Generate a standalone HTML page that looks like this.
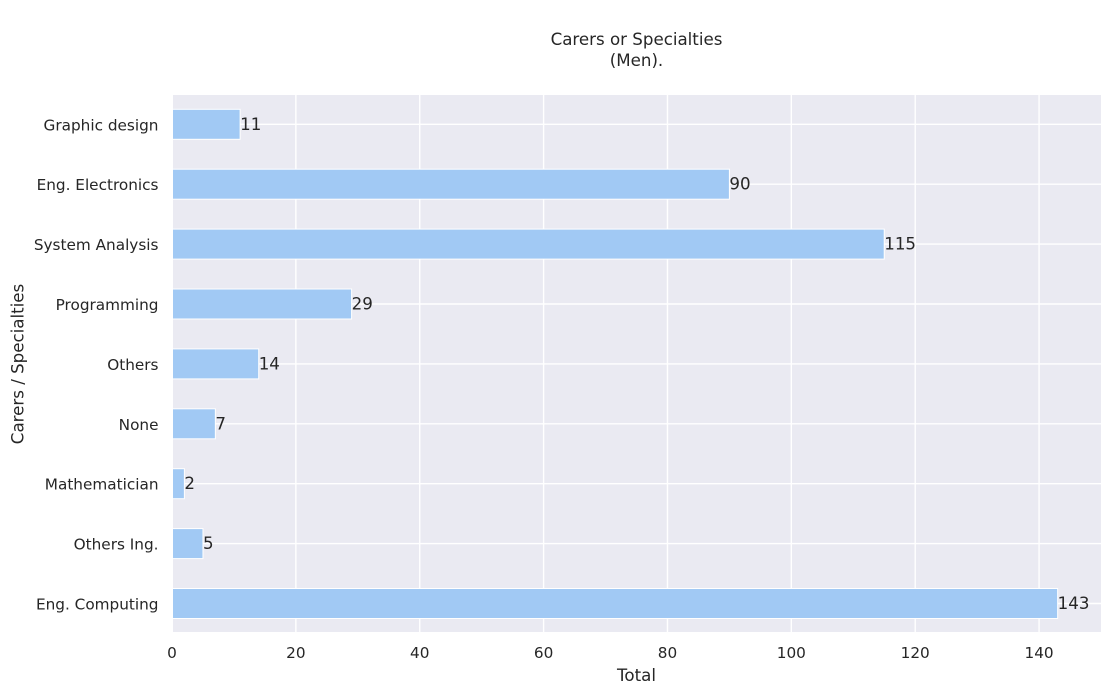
<!DOCTYPE html>
<html lang="en">
<head>
<meta charset="utf-8">
<title>Carers or Specialties (Men)</title>
<style>
html,body{margin:0;padding:0;background:#fff;width:1111px;height:695px;overflow:hidden}
svg{display:block}
text{font-family:"DejaVu Sans","Liberation Sans",sans-serif;fill:#262626}
</style>
</head>
<body>
<svg id="chart" width="1111" height="695" viewBox="0 0 1111 695" xmlns="http://www.w3.org/2000/svg">
<defs><clipPath id="plot-clip"><rect x="173" y="95" width="928" height="537"/></clipPath></defs>
<rect x="173" y="95" width="928" height="537" fill="#eaeaf2"/>
<g id="grid" clip-path="url(#plot-clip)"></g>
<g id="bars" clip-path="url(#plot-clip)"></g>
<g id="labels"></g>
<g id="yticks"></g>
<g id="xticks"></g>
<text x="636.5" y="45" text-anchor="middle" font-size="16.67">Carers or Specialties</text>
<text x="636.5" y="66" text-anchor="middle" font-size="16.67">(Men).</text>
<text x="636.5" y="681" text-anchor="middle" font-size="16.67">Total</text>
<text transform="translate(23.5,364) rotate(-90)" text-anchor="middle" font-size="16.67">Carers / Specialties</text>
</svg>
<script>
const categories = ["Graphic design", "Eng. Electronics", "System Analysis", "Programming", "Others", "None", "Mathematician", "Others Ing.", "Eng. Computing"];
const values = [11, 90, 115, 29, 14, 7, 2, 5, 143];
const xTicks = [0, 20, 40, 60, 80, 100, 120, 140];

const NS = "http://www.w3.org/2000/svg";
const plot = { left: 172, right: 1101, top: 95, bottom: 632 };
const xMax = 150;
const barHeight = 30;
const firstCenter = 124.3;
const lastCenter = 603.5;

function xScale(v) {
  return plot.left + (v / xMax) * (plot.right - plot.left);
}
function yScale(i) {
  return firstCenter + i * (lastCenter - firstCenter) / (categories.length - 1);
}
function make(tag, attrs, parent, text) {
  const el = document.createElementNS(NS, tag);
  for (const k in attrs) el.setAttribute(k, attrs[k]);
  if (text !== undefined) el.textContent = text;
  parent.appendChild(el);
  return el;
}

const grid = document.getElementById("grid");
const bars = document.getElementById("bars");
const labels = document.getElementById("labels");
const yticks = document.getElementById("yticks");
const xticks = document.getElementById("xticks");

xTicks.forEach(function (t) {
  const x = xScale(t);
  const line = make("line", { x1: x, x2: x, y1: plot.top, y2: plot.bottom, stroke: "#fff", "stroke-width": 1.4 }, grid);
  
  
  const label = make("text", { x: x, y: 658, "text-anchor": "middle", "font-size": 15.28 }, xticks, t);
  
  
});

categories.forEach(function (c, i) {
  const y = yScale(i);
  const line = make("line", { x1: plot.left, x2: plot.right, y1: y, y2: y, stroke: "#fff", "stroke-width": 1.4 }, grid);
  
  
  const label = make("text", { x: 158.5, y: y + 6, "text-anchor": "end", "font-size": 15.28 }, yticks, c);
  
  
});

values.forEach(function (v, i) {
  const y = yScale(i);
  const bar = make("rect", { x: xScale(0), y: y - barHeight / 2, width: xScale(v) - xScale(0), height: barHeight, fill: "#a1c9f4", stroke: "#fff", "stroke-width": 1 }, bars);
  
  
  const label = make("text", { x: xScale(v), y: y + 5.5, "font-size": 16.67 }, labels, v);
  
  
});
</script>
</body>
</html>
